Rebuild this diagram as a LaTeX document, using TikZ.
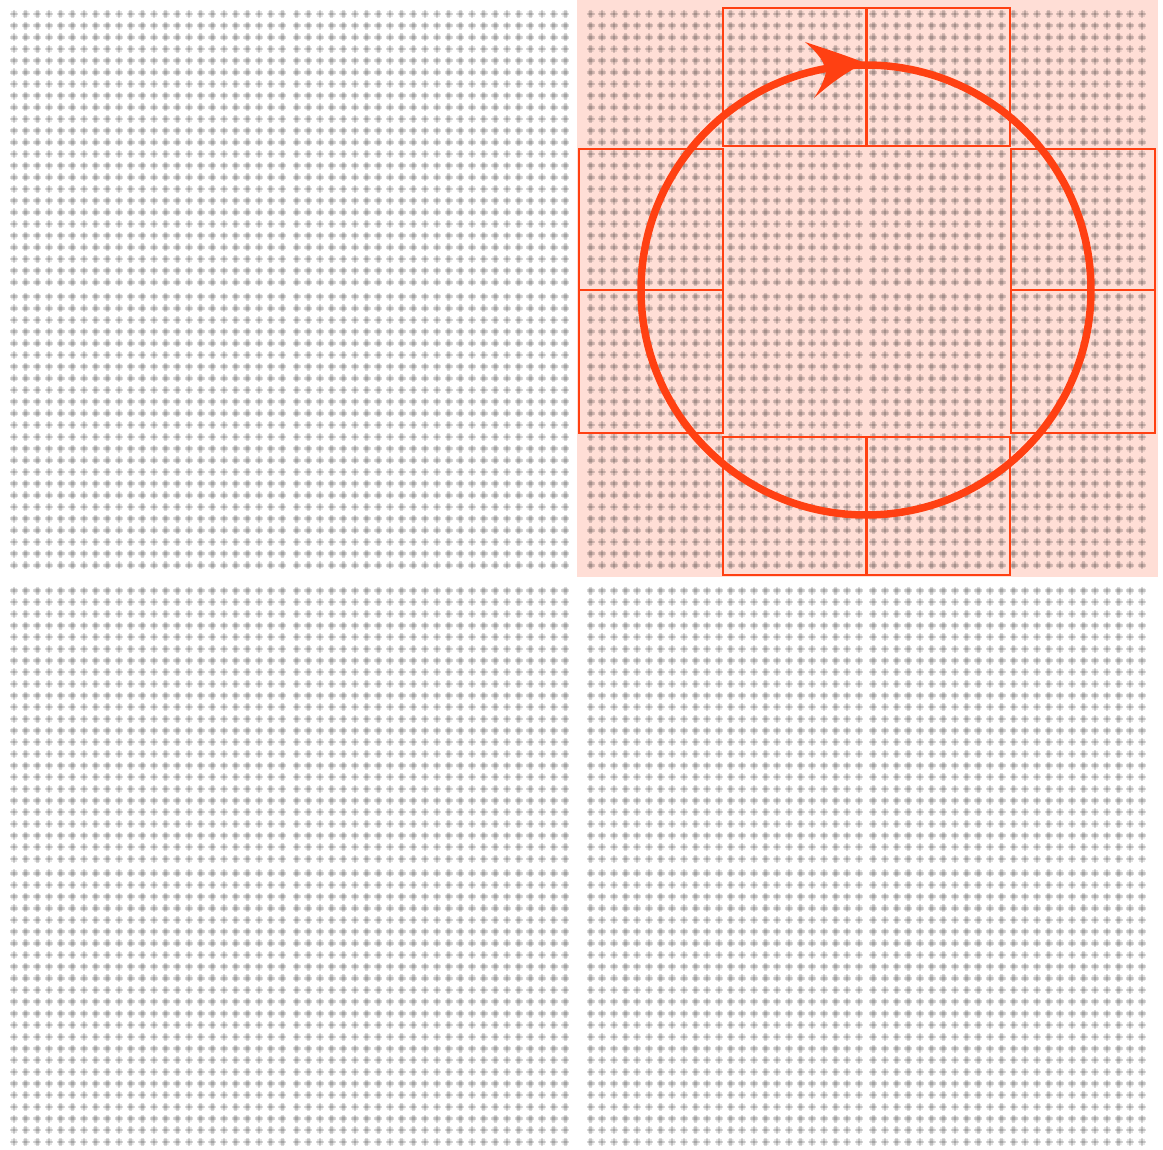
\documentclass[tikz,border=0pt]{standalone}
\definecolor{pinkbg}{RGB}{255,222,214}
\definecolor{redline}{RGB}{255,64,18}
\tikzset{
  dotarm/.style={line width=2.6pt, black, draw opacity=0.15, dash pattern=on 8pt off 3.667pt},
  dotglow/.style={line width=5.5pt, black, draw opacity=0.05, dash pattern=on 6pt off 5.667pt},
  sq/.style={draw=redline, line width=2.4pt},
  loopline/.style={draw=redline, line width=7.5pt}
}
\begin{document}
\begin{tikzpicture}[x=1pt,y=-1pt]
\useasboundingbox (0,0) rectangle (1163,1150);
\fill[white] (0,0) rectangle (1163,1150);
% pink highlighted quadrant
\fill[pinkbg] (577,0) rectangle (1158,577);
% dot grid: soft glow
\draw[dotglow] \foreach \qx in {0,576.5} { \foreach \tx in {14,154,296.7,437} { \foreach \qy in {0,576.5} { \foreach \ty in {14,154,296.7,437} { \foreach \k in {0,...,11} { (\qx+\tx-3, \qy+\ty+\k*11.667) -- ++(134.3,0) } } } } };
\draw[dotglow] \foreach \qx in {0,576.5} { \foreach \tx in {14,154,296.7,437} { \foreach \qy in {0,576.5} { \foreach \ty in {14,154,296.7,437} { \foreach \k in {0,...,11} { (\qx+\tx+\k*11.667, \qy+\ty-3) -- ++(0,134.3) } } } } };
% dot grid: horizontal arms
\draw[dotarm] \foreach \qx in {0,576.5} { \foreach \tx in {14,154,296.7,437} { \foreach \qy in {0,576.5} { \foreach \ty in {14,154,296.7,437} { \foreach \k in {0,...,11} { (\qx+\tx-4, \qy+\ty+\k*11.667) -- ++(136.3,0) } } } } };
% dot grid: vertical arms
\draw[dotarm] \foreach \qx in {0,576.5} { \foreach \tx in {14,154,296.7,437} { \foreach \qy in {0,576.5} { \foreach \ty in {14,154,296.7,437} { \foreach \k in {0,...,11} { (\qx+\tx+\k*11.667, \qy+\ty-4) -- ++(0,136.3) } } } } };
% squares
\draw[sq] (723,8) rectangle (866.5,146);
\draw[sq] (866.5,8) rectangle (1010,146);
\draw[sq] (579,149) rectangle (723,290);
\draw[sq] (579,290) rectangle (723,433);
\draw[sq] (1011,149) rectangle (1155,290);
\draw[sq] (1011,290) rectangle (1155,433);
\draw[sq] (723,437) rectangle (866.5,575);
\draw[sq] (866.5,437) rectangle (1010,575);
% loop
\coordinate (c) at (866,290);
\draw[loopline] (c) circle[radius=225];
% arrowhead
\fill[redline] (865,63) .. controls (845,55) and (826,49) .. (805,42)
  .. controls (819,54) and (825,63) .. (826,72)
  .. controls (824,81) and (820,89) .. (814,98)
  .. controls (830,84) and (846,72) .. cycle;
\end{tikzpicture}
\end{document}
